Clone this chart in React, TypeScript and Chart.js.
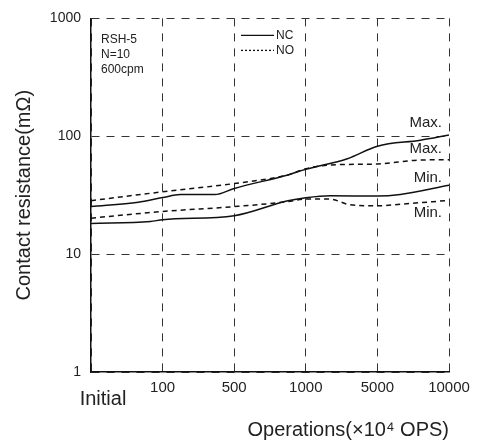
import React, { useEffect, useRef } from 'react';
import { Chart, registerables } from 'chart.js';

Chart.register(...registerables);

const FONT = '"Liberation Sans", Arial, Helvetica, sans-serif';

// Category axis (positions 0..5 on a uniform axis)
const categories = ['Initial', '100', '500', '1000', '5000', '10000'];
const yTickValues = [1, 10, 100, 1000];

// NC (solid) Max
const ncMaxPos = [0, 0.66, 1, 1.25, 1.73, 2, 2.75, 3, 3.58, 4, 4.6, 5];
const ncMaxVal = [25.3, 27.6, 30.2, 32.0, 32.0, 36.1, 47.0, 52.5, 64.5, 82.4, 92.6, 102.6];
// NO (dashed) Max
const noMaxPos = [0, 1, 2, 2.75, 3, 3.34, 4, 4.6, 5];
const noMaxVal = [28.4, 33.8, 39.7, 47.0, 53.1, 57.1, 58.2, 62.9, 63.2];
// NC (solid) Min
const ncMinPos = [0, 0.83, 1, 2, 2.75, 3, 3.34, 4, 4.32, 5];
const ncMinVal = [18.2, 18.9, 19.6, 21.2, 28.4, 30.1, 31.3, 31.1, 32.1, 38.5];
// NO (dashed) Min
const noMinPos = [0, 1, 2, 2.75, 3, 3.34, 3.62, 4, 4.32, 5];
const noMinVal = [20.2, 23.0, 25.3, 27.9, 29.4, 29.3, 26.2, 25.7, 26.5, 28.6];

// Curve labels
const curveLabels = ['Max.', 'Max.', 'Min.', 'Min.'];
const curveLabelValues = [129, 78, 44.6, 22.2];

const noteLines = ['RSH-5', 'N=10', '600cpm'];
const legendNames = ['NC', 'NO'];

const toPoints = (pos: number[], val: number[]) => pos.map((p, i) => ({ x: p, y: val[i] }));

const annotationPlugin = {
  id: 'annotations',
  afterDraw(chart: any) {
    const { ctx, chartArea, scales } = chart;
    const xs = scales.x;
    const ys = scales.y;
    ctx.save();
    ctx.fillStyle = '#222';
    ctx.textBaseline = 'middle';

    // "Initial" label under the axis origin
    ctx.font = `20px ${FONT}`;
    ctx.textAlign = 'center';
    ctx.fillText(categories[0], xs.getPixelForValue(0) + 12, chartArea.bottom + 27);

    // Curve labels
    ctx.font = `15px ${FONT}`;
    ctx.textAlign = 'right';
    curveLabels.forEach((t, i) => {
      ctx.fillText(t, chartArea.right - 7, ys.getPixelForValue(curveLabelValues[i]));
    });

    // Notes top-left
    ctx.font = `12px ${FONT}`;
    ctx.textAlign = 'left';
    noteLines.forEach((t, i) => {
      ctx.fillText(t, chartArea.left + 10, chartArea.top + 21 + i * 15);
    });

    // Legend
    const lx0 = chartArea.left + 150;
    const lx1 = lx0 + 33;
    legendNames.forEach((t, i) => {
      const y = chartArea.top + 17 + i * 15;
      ctx.beginPath();
      ctx.strokeStyle = '#111';
      ctx.lineWidth = 1.3;
      ctx.setLineDash(i === 0 ? [] : [2, 2]);
      ctx.moveTo(lx0, y);
      ctx.lineTo(lx1, y);
      ctx.stroke();
      ctx.setLineDash([]);
      ctx.fillText(t, lx1 + 2, y);
    });
    ctx.restore();
  },
};

export default function App() {
  const ref = useRef<HTMLCanvasElement | null>(null);

  useEffect(() => {
    document.body.style.margin = '0';
    if (!ref.current) return;
    const lineBase = {
      borderColor: '#111',
      borderWidth: 1.5,
      pointRadius: 0,
      fill: false,
      cubicInterpolationMode: 'monotone' as const,
    };
    const chart = new Chart(ref.current, {
      type: 'line',
      data: {
        datasets: [
          { ...lineBase, label: 'NC Max', data: toPoints(ncMaxPos, ncMaxVal) },
          { ...lineBase, label: 'NO Max', data: toPoints(noMaxPos, noMaxVal), borderDash: [5, 4] },
          { ...lineBase, label: 'NC Min', data: toPoints(ncMinPos, ncMinVal) },
          { ...lineBase, label: 'NO Min', data: toPoints(noMinPos, noMinVal), borderDash: [5, 4] },
        ],
      },
      options: {
        animation: false,
        responsive: false,
        maintainAspectRatio: false,
        layout: { padding: { left: 0, top: 15, right: 28, bottom: 0 } },
        plugins: {
          legend: { display: false },
          tooltip: { enabled: false },
        },
        scales: {
          x: {
            type: 'linear',
            min: 0,
            max: 5,
            afterBuildTicks: (s: any) => {
              s.ticks = categories.map((_, i) => ({ value: i }));
            },
            afterFit: (s: any) => {
              s.height = 71;
            },
            ticks: {
              autoSkip: false,
              maxRotation: 0,
              padding: 7,
              color: '#222',
              font: { family: FONT, size: 15 },
              callback: (v: any) => (v === 0 ? '' : categories[v] ?? ''),
            },
            grid: { color: '#333', lineWidth: 1, drawTicks: false },
            border: { display: true, color: '#111', width: 1.5, dash: [8, 7] },
            title: {
              display: true,
              text: 'Operations(×10⁴ OPS)',
              align: 'end',
              color: '#222',
              font: { family: FONT, size: 20 },
              padding: { top: 0, bottom: 1 },
            },
          },
          y: {
            type: 'logarithmic',
            min: 1,
            max: 1000,
            afterBuildTicks: (s: any) => {
              s.ticks = yTickValues.map((v) => ({ value: v }));
            },
            afterFit: (s: any) => {
              s.width = 91;
            },
            ticks: {
              padding: 10,
              color: '#222',
              font: { family: FONT, size: 14 },
              callback: (v: any) => String(v),
            },
            grid: { color: '#333', lineWidth: 1, drawTicks: false },
            border: { display: true, color: '#111', width: 1.5, dash: [8, 7] },
            title: {
              display: true,
              text: 'Contact resistance(mΩ)',
              color: '#222',
              font: { family: FONT, size: 20 },
              padding: { top: 12, bottom: 0 },
            },
          },
        },
      },
      plugins: [annotationPlugin],
    } as any);
    return () => chart.destroy();
  }, []);

  return (
    <div style={{ width: 477, height: 443 }}>
      <canvas ref={ref} width={477} height={443} style={{ display: 'block' }} />
    </div>
  );
}
